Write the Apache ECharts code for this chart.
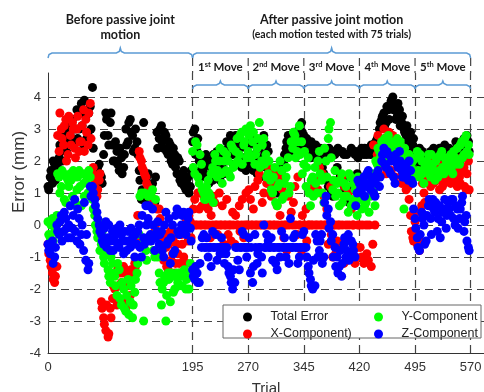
<!DOCTYPE html>
<html>
<head>
<meta charset="utf-8">
<script src="https://cdn.jsdelivr.net/npm/echarts@6/dist/echarts.min.js"></script>
<style>
  html, body {margin: 0; padding: 0; background: #fff;}
  #chart {width: 484px; height: 392px;}
</style>
</head>
<body>
<div id="chart"></div>
<script>
// readings are taken for every 3rd trial (offset 0) and the trial after it (offset 1)
const trialStep = 3
const xMax = 588
const yMin = -4
const yMax = 4.75
const xTicks = [0, 195, 270, 345, 420, 495, 570]
const yTicks = [-4, -3, -2, -1, 0, 1, 2, 3, 4]
const moveLabels = [['1', 'st'], ['2', 'nd'], ['3', 'rd'], ['4', 'th'], ['5', 'th']]

const totalError = [
  1.2, 1.5, 1.3, 1.9, 1.6, 2.1, 2.3, 2.6, 2.9, 3.1,
  2.8, 3.3, 2.6, 3.6, 3.0, 3.8, 2.4, 3.4, 2.9, 3.7,
  4.3, 1.6, 1.4, 1.9, 1.5, 2.2, 3.5, 2.8, 3.2, 2.5,
  2.0, 2.3, 1.7, 2.1, 1.8, 3.0, 2.6, 3.3, 2.8, 2.4,
  2.6, 1.7, 0.8, 3.2, 0.7, 1.6, 0.8, 1.3, 0.7, 2.9,
  2.7, 3.1, 2.4, 2.8, 2.2, 2.5, 1.9, 2.2, 1.6, 2.0,
  1.3, 1.7, 1.1, 1.5, 1.2, 2.6, 3.0, 2.3, 2.0, 1.5,
  1.8, 2.2, 1.5, 2.0, 1.4, 1.9, 2.3, 1.7, 2.1, 1.6,
  2.0, 2.4, 2.8, 2.2, 2.6, 1.9, 2.4, 1.8, 2.1, 1.7,
  2.5, 1.9, 2.7, 2.2, 1.6, 2.4, 2.0, 2.8, 1.8, 2.3,
  1.6, 1.3, 1.0, 1.4, 1.1, 1.7, 2.0, 2.4, 2.8, 2.5,
  2.6, 2.9, 2.4, 3.0, 3.2, 2.8, 2.3, 2.5, 2.1, 2.4,
  2.2, 2.4, 2.3, 2.0, 1.6, 2.2, 1.2, 2.3, 0.9, 2.2,
  1.8, 2.3, 1.3, 2.2, 0.8, 1.5, 2.3, 1.1, 2.2, 1.6,
  2.3, 2.4, 2.2, 2.3, 2.4, 2.2, 2.5, 2.3, 2.7, 3.0,
  3.3, 3.5, 3.2, 3.6, 3.8, 4.0, 3.7, 3.4, 3.6, 3.2,
  3.0, 2.8, 2.6, 2.9, 2.5, 2.3, 2.1, 2.4, 1.9, 2.2,
  2.0, 1.8, 2.3, 2.1, 1.7, 2.0, 2.4, 1.9, 2.2, 1.8,
  2.1, 2.3, 1.9, 2.2, 2.5, 2.0, 2.3, 2.7, 2.4, 2.6
]
const totalErrorNext = [
  1.1, 1.7, 2.0, 1.4, 1.8, 2.5, 2.0, 2.9, 2.3, 2.7,
  3.2, 2.5, 3.0, 2.7, 3.5, 3.1, 3.9, 2.7, 3.5, 3.0,
  2.4, 1.3, 1.8, 1.6, 1.3, 2.8, 3.3, 2.5, 3.5, 2.0,
  2.6, 1.9, 2.4, 1.6, 2.2, 2.5, 3.2, 2.9, 2.3, 3.0,
  2.2, 1.4, 1.1, 0.8, 1.5, 0.7, 1.2, 0.8, 1.5, 2.4,
  3.0, 2.6, 2.9, 2.3, 2.6, 2.0, 2.4, 1.8, 2.1, 1.4,
  1.6, 1.2, 1.4, 1.0, 1.7, 2.9, 2.2, 2.7, 1.7, 2.1,
  1.6, 2.0, 1.3, 1.8, 2.2, 1.5, 2.0, 1.4, 1.8, 2.3,
  2.6, 2.2, 2.5, 1.9, 2.8, 2.3, 2.0, 2.6, 1.9, 2.4,
  2.1, 2.6, 1.7, 2.5, 2.1, 1.5, 2.6, 2.2, 2.5, 1.4,
  1.2, 1.5, 1.2, 1.0, 1.5, 1.9, 2.2, 2.6, 2.3, 2.8,
  2.3, 2.6, 2.8, 2.5, 2.9, 2.5, 2.7, 2.2, 2.6, 2.3,
  2.5, 2.1, 2.4, 1.8, 2.3, 1.4, 2.4, 1.0, 2.3, 1.7,
  2.4, 1.5, 2.3, 1.1, 2.2, 0.7, 2.4, 1.4, 2.3, 2.1,
  2.2, 2.3, 2.4, 2.2, 2.3, 2.5, 2.3, 2.6, 2.4, 3.2,
  3.4, 3.1, 3.7, 3.3, 3.9, 3.6, 3.3, 3.8, 3.1, 3.4,
  2.9, 3.1, 2.7, 2.4, 2.7, 2.0, 2.3, 1.8, 2.3, 2.0,
  1.7, 2.2, 1.9, 2.4, 2.0, 2.3, 1.8, 2.1, 2.5, 2.0,
  2.4, 2.0, 2.3, 2.6, 2.1, 2.5, 2.2, 2.5, 2.8, 2.3
]
const xComponent = [
  -0.6, -1.1, -1.5, -1.8, -1.3, 2.3, 3.0, 2.5, 3.3, 2.2,
  2.8, 3.2, 2.4, 3.0, 2.3, 2.6, 3.6, 3.3, 2.5, 3.8,
  1.6, 1.2, 0.9, 1.4, -2.4, -2.9, -3.3, -3.5, -2.6, -2.3,
  -2.0, -2.5, -1.5, -1.8, -1.3, -2.6, -1.6, -2.2, -1.4, -1.2,
  -0.5, 2.3, 2.0, 1.7, 1.5, 1.2, 1.0, 0.8, -0.2, 0.5,
  0.5, -0.4, -1.1, -0.7, -1.4, -0.2, -0.9, -1.5, -0.6, -1.2,
  -0.3, -1.0, 0.2, -0.5, 0.1, 0.0, 0.8, 0.0, 0.5, 0.0,
  0.9, 0.0, 0.5, -0.4, 0.0, 0.7, 0.0, 1.0, 0.0, -0.6,
  0.0, -0.3, 0.0, 0.4, -0.6, 0.0, 0.6, 0.0, -0.4, 1.0,
  0.0, 0.8, 0.0, 1.2, 0.0, 1.6, 0.0, 1.0, 0.0, 1.8,
  0.0, 1.3, 0.0, 0.6, 1.5, 0.0, -0.4, 0.0, 0.9, -0.7,
  0.0, 1.2, -0.3, 0.0, -0.8, 0.0, 0.5, 0.0, 1.0, 0.0,
  1.4, 0.0, 1.8, 0.0, 0.9, 0.0, -0.6, 1.2, -1.0, 0.0,
  -0.5, 0.0, 1.5, -1.2, 0.0, 1.0, -0.9, 0.0, -1.2, -0.7,
  0.0, -1.0, -1.2, 0.0, -1.1, 1.3, -0.6, 0.0, 2.2, 1.8,
  2.6, 3.0, 1.6, 2.3, 2.0, 2.8, 1.5, 2.4, 1.8, 1.3,
  1.4, 1.1, 1.2, 0.3, -0.4, 0.1, -0.6, -0.8, 0.6, 1.0,
  1.5, 1.9, 1.2, 1.6, 2.0, 1.4, 1.1, 1.8, 1.3, 1.6,
  1.9, 1.3, 1.7, 2.0, 1.2, 1.5, 2.1, 1.8, 1.1, 2.0
]
const xComponentNext = [
  -0.9, -1.3, -1.7, -1.6, 2.8, 3.5, 2.7, 3.1, 2.0, 3.4,
  2.5, 3.0, 2.1, 3.4, 2.6, 3.1, 2.3, 2.9, 3.5, 2.7,
  1.8, 1.4, 1.1, 1.6, -2.6, -3.1, -2.5, -3.4, -2.9, -1.9,
  -2.3, -1.4, -1.9, -1.5, -2.4, -1.5, -1.9, -1.4, -1.6, -1.3,
  0.3, 2.1, 1.8, 1.6, 1.3, 1.1, 0.9, 0.6, 0.0, -0.3,
  0.2, -0.8, -0.3, -1.3, -0.6, -1.1, -0.4, -1.2, -0.9, -1.5,
  -0.6, -0.2, -1.2, 0.3, -0.4, 0.5, 0.0, 1.0, 0.0, 0.6,
  0.0, 0.7, 0.0, 0.3, 0.9, 0.0, -0.3, 0.0, 0.6, 0.0,
  0.8, 0.0, -0.5, 0.0, 0.3, 0.0, -0.2, 0.8, 0.0, 0.0,
  1.1, 0.0, 0.5, 0.0, 1.4, 0.0, 0.7, 0.0, 1.3, 0.0,
  0.9, 0.0, 1.7, 0.0, 0.3, 1.1, 0.0, -0.8, 0.0, 0.4,
  0.7, 0.0, 1.5, 0.0, 0.3, 0.0, -0.5, 0.0, 0.0, 1.2,
  0.0, 1.1, 0.0, 1.6, 0.0, 0.5, 0.0, -0.3, 0.0, -0.9,
  0.0, -0.6, 0.0, 1.2, -1.1, 0.0, 0.5, 0.0, -1.0, 0.0,
  -0.7, 0.0, -1.1, -0.9, 0.0, -1.3, 2.5, 1.5, 2.8, 2.1,
  2.2, 2.7, 2.0, 2.9, 1.7, 2.5, 2.2, 1.9, 2.1, 1.6,
  1.7, 1.3, 0.8, -0.2, -0.5, -0.3, 0.4, -0.5, 1.3, 0.7,
  1.8, 1.4, 2.1, 1.3, 1.7, 1.9, 1.5, 1.2, 1.9, 1.4,
  1.6, 2.1, 1.4, 1.7, 1.9, 1.3, 1.7, 1.2, 1.6, 1.1
]
const yComponent = [
  0.1, -0.4, 0.2, -0.2, 0.3, 1.5, 1.2, 1.6, 0.7, 1.4,
  1.6, 0.9, 1.5, 1.1, 1.7, 0.6, 1.3, 1.6, 1.0, 1.5,
  0.8, 0.3, -0.2, 0.1, -0.6, -1.0, -0.5, -1.4, -1.8, -1.2,
  -1.6, -2.2, -1.4, -2.5, -2.0, -2.7, -1.7, -2.4, -2.9, -2.1,
  -1.5, -0.3, 1.0, -3.0, -0.8, 0.9, -0.5, 1.1, -1.0, -0.2,
  -1.5, -2.5, -1.8, -3.0, -1.5, -2.4, -1.6, -2.0, -1.5, -1.9,
  -1.6, -1.5, -2.0, -1.5, -1.2, 2.3, 1.6, 2.5, 1.3, 1.9,
  1.0, 0.8, 1.4, 0.9, 1.8, 2.2, 1.5, 2.0, 1.6, 2.3,
  1.7, 2.0, 1.5, 2.4, 1.9, 2.7, 2.2, 2.9, 2.5, 3.0,
  2.3, 3.1, 2.6, 1.9, 2.4, 3.2, 2.0, 2.7, 2.2, 1.6,
  1.4, 1.0, 1.8, 0.6, 1.3, 1.7, 0.9, 1.5, 2.1, 1.2,
  2.4, 2.8, 2.3, 3.1, 2.6, 1.9, 1.2, 2.1, 0.6, 1.5,
  1.8, 1.0, 2.3, 1.4, 0.7, 2.0, 2.7, 3.2, 1.1, 1.7,
  1.3, 0.6, 1.6, 0.9, 1.2, 0.4, 1.5, 0.8, 1.1, 0.3,
  1.0, 0.5, 1.4, 0.7, 1.2, 0.9, 1.6, 0.6, 1.9, 2.3,
  2.6, 2.1, 2.4, 2.8, 2.2, 2.5, 2.0, 2.7, 2.3, 1.9,
  0.5, 2.1, 1.8, 1.4, 2.0, 1.6, 2.3, 1.5, 2.0, 1.3,
  1.8, 2.2, 1.5, 1.9, 1.4, 2.1, 1.7, 2.3, 1.6, 2.0,
  1.8, 2.2, 1.6, 2.1, 2.4, 1.9, 2.6, 2.2, 2.8, 2.5
]
const yComponentNext = [
  -0.3, 0.0, -0.5, 0.2, 1.6, 1.0, 1.7, 0.8, 1.5, 1.2,
  1.4, 1.7, 0.7, 1.5, 1.2, 1.6, 0.9, 1.4, 1.7, 1.2,
  0.5, 0.0, -0.4, -0.8, -0.2, -1.2, -0.9, -1.6, -1.0, -1.5,
  -1.9, -1.2, -2.3, -1.8, -2.6, -2.2, -2.8, -1.9, -2.5, -1.7,
  -1.2, 0.9, -0.6, 1.0, -1.1, -0.4, 1.0, -0.8, 0.8, -1.0,
  -1.8, -2.0, -1.6, -2.2, -1.7, -1.5, -2.1, -1.6, -1.8, -1.5,
  -1.9, -1.4, -1.7, -2.0, -1.5, 1.8, 2.6, 1.5, 2.2, 1.1,
  0.8, 1.2, 1.0, 1.6, 0.7, 2.0, 1.7, 2.4, 1.3, 2.0,
  2.2, 1.6, 2.5, 1.8, 2.3, 2.0, 2.8, 1.9, 2.6, 2.1,
  2.8, 2.1, 2.9, 2.2, 2.7, 1.8, 2.5, 1.9, 1.5, 2.0,
  1.1, 1.5, 0.7, 1.2, 2.0, 0.8, 1.3, 1.8, 1.0, 2.6,
  2.9, 2.1, 2.6, 2.2, 1.6, 2.3, 1.8, 1.0, 1.4, 0.9,
  1.3, 2.0, 1.6, 1.0, 2.4, 1.5, 3.0, 2.1, 1.4, 0.9,
  1.0, 1.4, 0.7, 1.3, 0.9, 1.6, 0.6, 1.3, 0.8, 1.5,
  0.8, 1.2, 0.6, 1.5, 0.4, 1.3, 1.1, 2.0, 2.4, 2.1,
  2.3, 2.7, 2.0, 2.5, 2.6, 2.2, 2.4, 2.1, 2.6, 2.2,
  2.4, 1.6, 2.2, 1.8, 1.5, 2.1, 1.7, 2.2, 1.6, 1.8,
  2.0, 1.6, 2.2, 1.7, 2.0, 1.5, 2.2, 1.8, 2.1, 1.7,
  2.0, 1.7, 2.3, 1.9, 2.0, 2.5, 2.1, 2.7, 2.3, 2.2
]
const zComponent = [
  -0.6, -0.9, -0.5, -1.0, 0.0, -0.3, 0.3, -0.2, 0.2, -0.4,
  0.6, -0.1, 0.8, -0.5, 0.2, -0.3, -0.8, -1.1, -1.4, 1.2,
  1.2, 0.8, 0.4, 0.0, -0.3, -0.6, 0.1, -0.4, -0.8, -0.2,
  -0.5, -0.1, -0.7, -0.3, -0.9, -0.5, -0.2, -0.7, -0.4, -1.0,
  -0.6, 0.0, -1.0, -0.4, 0.6, 0.2, -0.3, 0.5, -0.8, -0.2,
  -0.6, -0.2, -1.0, 0.4, -0.5, -1.2, 0.0, -0.8, 0.5, -0.3,
  0.0, 0.4, -0.3, 0.2, -0.1, -1.4, -1.7, -1.5, -1.8, -0.7,
  -0.3, -0.7, -1.0, -0.7, -0.2, -0.7, -1.1, -0.7, -0.4, -0.7,
  -0.9, -1.3, -1.6, -2.0, -1.8, -0.7, -1.4, -0.7, -0.3, -0.7,
  -0.7, -1.5, -1.8, -0.3, -1.2, -0.7, -1.0, 0.0, -0.7, -0.5,
  -0.7, -1.1, -0.7, -1.4, -0.7, -0.2, -0.7, -1.0, -0.7, 0.2,
  -0.7, -0.3, -0.7, -1.0, -0.7, -0.2, -0.7, -1.3, -1.7, -2.0,
  -1.9, -0.5, -0.8, -0.3, -1.0, 0.9, 0.5, 0.1, -0.3, -0.7,
  -1.0, -1.3, -1.6, -0.6, -1.0, -0.3, -0.9, -0.6, -1.0, 1.0,
  1.3, 1.0, 1.5, 1.2, 1.7, 1.1, 1.4, 0.9, 1.6, 1.2,
  2.0, 2.4, 1.8, 2.2, 1.6, 2.1, 1.3, 1.9, 2.3, 1.7,
  1.5, 1.9, 1.4, 1.7, 1.3, 0.2, -0.4, -0.8, 0.4, 0.0,
  -0.5, 0.6, 0.2, 0.8, 0.4, -0.2, 0.6, 0.1, 0.5, -0.1,
  0.7, 0.3, 0.8, 0.0, 0.5, 0.2, 0.7, -0.2, 0.3, -0.7
]
const zComponentNext = [
  -0.8, -0.6, -1.2, -0.7, -0.2, 0.1, -0.5, 0.4, -0.1, 0.0,
  -0.4, 0.3, -0.2, 0.5, -0.6, 0.0, 0.7, -0.3, -1.2, 0.9,
  1.0, 0.6, 0.2, -0.2, -0.5, -0.1, -0.7, 0.0, -0.5, -0.8,
  -0.3, -0.6, 0.0, -0.5, -0.2, -0.8, -0.5, -0.1, -0.6, -0.3,
  -0.2, -0.7, 0.3, -0.6, 0.0, 0.6, -0.5, 0.0, -0.4, 0.1,
  -0.3, -0.8, 0.0, -0.6, 0.2, -0.4, -0.9, 0.3, -0.2, 0.4,
  0.3, -0.2, 0.0, 0.4, -0.5, -1.6, -1.3, -1.8, -1.2, -0.4,
  -0.7, -0.4, -0.7, -1.3, -0.7, -0.3, -0.7, -0.9, -0.7, -1.2,
  -0.7, -1.5, -1.8, -1.4, -0.7, -1.1, -0.7, -0.2, -0.7, -1.0,
  -0.4, -0.7, -1.3, -0.7, -0.9, -0.7, -1.5, -0.7, -0.3, -0.7,
  -0.4, -0.7, -1.2, -0.7, -1.0, -0.7, -0.4, -0.7, -1.2, -0.7,
  -0.4, -0.7, -1.2, -0.7, -0.3, -0.7, -1.0, -1.5, -1.9, -1.1,
  -0.3, -1.0, -0.5, -1.2, 0.7, 0.3, -0.1, -0.5, -1.0, -1.3,
  -1.5, -0.8, -1.2, -0.4, -0.8, -1.1, -0.5, -0.8, 0.6, 1.4,
  1.1, 1.4, 0.9, 1.6, 1.3, 1.5, 1.0, 1.3, 1.7, 1.5,
  2.2, 1.9, 2.3, 1.7, 2.0, 1.5, 2.2, 1.8, 2.0, 1.5,
  1.8, 1.6, 2.0, 1.4, 0.5, -0.1, -0.7, -0.3, 0.2, -0.6,
  0.3, 0.8, -0.3, 0.5, 0.7, 0.2, -0.4, 0.4, 0.8, 0.3,
  0.5, 0.8, 0.2, 0.6, -0.1, 0.5, 0.9, 0.1, -0.5, -0.8
]

const toPoints = (arr, offset) => arr.map((v, i) => [i * trialStep + offset, v])

const axisColor = '#333'
const dash = {type: [8, 5], color: '#444', width: 1.2}
const labelFont = 'Liberation Sans, Arial, sans-serif'
const titleFont = 'Lato, Open Sans, sans-serif'

// dashed grid drawn as mark lines so only the tick values get a line
const gridLines = [
  ...xTicks.slice(1).map(x => [{coord: [x, yMin]}, {coord: [x, yMax]}]),
  ...yTicks.slice(1).map(y => [{coord: [0, y]}, {coord: [xMax, y]}])
]

function scatter(name, color, first, next) {
  return {
    name, type: 'scatter', data: [...toPoints(first, 0), ...toPoints(next, 1)],
    symbol: 'circle', symbolSize: 9,
    itemStyle: {color, opacity: 1},
    emphasis: {disabled: true}
  }
}

const legendBase = {
  orient: 'vertical', top: 305, itemWidth: 10, itemHeight: 9, itemGap: 3,
  textStyle: {fontSize: 12.5, fontFamily: labelFont, color: '#222', lineHeight: 14, padding: [0, 0, 0, 13]},
  selectedMode: false, z: 10
}

const option = {
  animation: false,
  grid: {left: 48, right: 0, top: 73, bottom: 39, outerBoundsMode: 'none'},
  xAxis: {
    type: 'value', min: 0, max: xMax,
    splitLine: {show: false},
    axisLine: {onZero: false, lineStyle: {color: axisColor}},
    axisTick: {inside: true, length: 4, customValues: xTicks, lineStyle: {color: axisColor}},
    axisLabel: {customValues: xTicks, fontSize: 13, color: axisColor, margin: 8, fontFamily: labelFont},
    name: 'Trial', nameLocation: 'middle', nameGap: 28,
    nameTextStyle: {fontSize: 15, color: axisColor, fontFamily: labelFont}
  },
  yAxis: {
    type: 'value', min: yMin, max: yMax,
    splitLine: {show: false},
    axisLine: {onZero: false, lineStyle: {color: axisColor}},
    axisTick: {inside: true, length: 4, customValues: yTicks, lineStyle: {color: axisColor}},
    axisLabel: {customValues: yTicks, fontSize: 13, color: axisColor, margin: 7, fontFamily: labelFont}
  },
  legend: [
    {...legendBase, left: 238, data: ['Total Error', 'X-Component)']},
    {...legendBase, left: 369, data: ['Y-Component', 'Z-Component']}
  ],
  series: [
    {
      name: 'grid', type: 'scatter', data: [], z: 1, silent: true,
      markLine: {silent: true, z: 1, symbol: ['none', 'none'], label: {show: false},
        lineStyle: dash, emphasis: {disabled: true}, data: gridLines}
    },
    scatter('Total Error', '#000000', totalError, totalErrorNext),
    scatter('X-Component)', '#ff0000', xComponent, xComponentNext),
    scatter('Y-Component', '#00ff00', yComponent, yComponentNext),
    scatter('Z-Component', '#0000ff', zComponent, zComponentNext)
  ]
}

const chart = echarts.init(document.getElementById('chart'))
chart.setOption(option)

// annotations: braces and titles above the plot
const px = v => chart.convertToPixel({gridIndex: 0}, [v, 0])[0]
const gridTop = chart.convertToPixel({gridIndex: 0}, [0, yMax])[1]
const braceColor = '#5b9bd5'

function brace(x1, x2, y, h) {
  const xm = (x1 + x2) / 2
  return {
    type: 'polyline', silent: true, z: 10,
    shape: {points: [[x1, y + h], [x1 + 1, y + 1.5], [x1 + 4, y], [xm - 4, y], [xm - 1, y - 1.5], [xm, y - h],
      [xm + 1, y - 1.5], [xm + 4, y], [x2 - 4, y], [x2 - 1, y + 1.5], [x2, y + h]]},
    style: {stroke: braceColor, lineWidth: 1.5, fill: null}
  }
}

function title(x, y, text, size) {
  return {
    type: 'text', x, y, silent: true, z: 10,
    style: {text, fontSize: size, fontWeight: 'bold', fontFamily: titleFont, fill: '#1a1a1a', align: 'center', verticalAlign: 'middle'}
  }
}

const graphics = []
xTicks.slice(1).forEach(x => {
  graphics.push({
    type: 'line', silent: true, z: 1,
    shape: {x1: px(x), y1: 58, x2: px(x), y2: gridTop},
    style: {stroke: dash.color, lineWidth: dash.width, lineDash: dash.type}
  })
})
graphics.push(brace(px(xTicks[0]), px(xTicks[1]), 53, 5))
graphics.push(brace(px(xTicks[1]), px(xTicks[6]), 53, 5))
moveLabels.forEach((m, i) => {
  const a = px(xTicks[i + 1]), b = px(xTicks[i + 2])
  graphics.push(brace(a, b, 85, 4))
  graphics.push({
    type: 'text', x: (a + b) / 2, y: 67, silent: true, z: 10,
    style: {
      text: m[0] + '{s|' + m[1] + '} Move', fontSize: 11.5, fontWeight: 'bold', fontFamily: titleFont, fill: '#1a1a1a',
      align: 'center', verticalAlign: 'middle',
      rich: {s: {fontSize: 7.5, fontWeight: 'bold', fontFamily: titleFont, fill: '#1a1a1a', verticalAlign: 'top'}}
    }
  })
})
const midBefore = px((xTicks[0] + xTicks[1]) / 2)
const midAfter = px((xTicks[1] + xTicks[6]) / 2)
graphics.push(title(midBefore, 20, 'Before passive joint', 12.5))
graphics.push(title(midBefore, 35, 'motion', 12.5))
graphics.push(title(midAfter, 20, 'After passive joint motion', 12.5))
graphics.push(title(midAfter, 35, '(each motion tested with 75 trials)', 10.5))
graphics.push({
  type: 'text', x: 19, y: 172, rotation: Math.PI / 2, silent: true,
  style: {text: 'Error (mm)', fontSize: 17, fontFamily: labelFont, fill: axisColor, align: 'center', verticalAlign: 'middle'}
})
graphics.push({
  type: 'rect', silent: true, z: 6,
  shape: {x: 223, y: 305, width: 258, height: 33},
  style: {fill: '#fff', stroke: '#666', lineWidth: 1}
})

chart.setOption({graphic: graphics})
</script>
</body>
</html>
